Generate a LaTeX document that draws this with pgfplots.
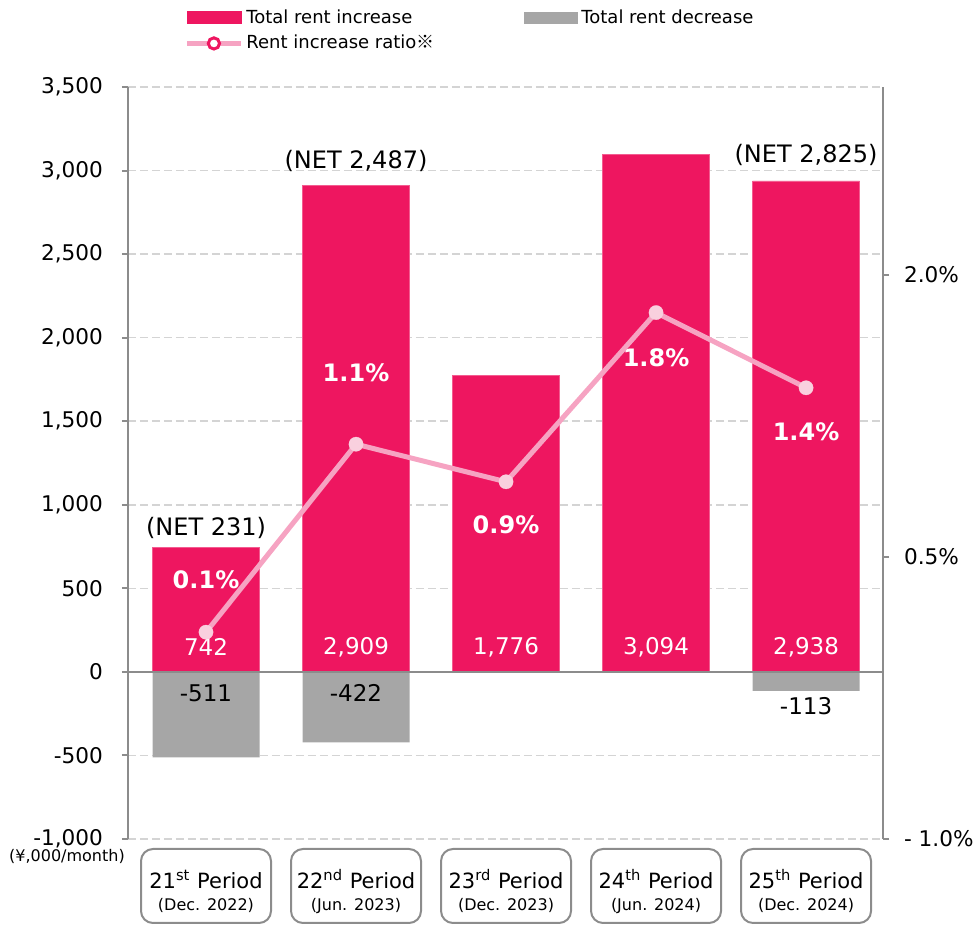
\documentclass[border=0pt]{standalone}
\usepackage{fontspec}
\setmainfont{DejaVu Sans}
\newfontfamily\cjk{Noto Sans CJK JP}
\usepackage{pgfplots}
\pgfplotsset{compat=1.18}
\definecolor{pinkbar}{HTML}{EE1660}
\definecolor{graybar}{HTML}{A6A6A6}
\definecolor{linepink}{HTML}{F6A3C2}
\definecolor{markpink}{HTML}{F9D0DE}
\definecolor{axisgray}{HTML}{8C8C8C}
\definecolor{gridgray}{HTML}{D4D4D4}
\begin{document}
\begin{tikzpicture}
\begin{axis}[
  name=main,
  at={(0pt,0pt)}, anchor=south west,
  scale only axis, width=377.5pt, height=376pt,
  xmin=-0.52, xmax=4.513, ymin=-1000, ymax=3500,
  axis y line*=left, axis x line*=bottom,
  x axis line style={draw=none},
  y axis line style={axisgray, line width=1pt, -},
  xtick={0,1,2,3,4},
  xtick style={draw=none},
  ytick={-1000,-500,0,500,1000,1500,2000,2500,3000,3500},
  yticklabels={{-1,000},-500,0,500,{1,000},{1,500},{2,000},{2,500},{3,000},{3,500}},
  ytick style={axisgray, line width=1pt},
  tick align=outside, major tick length=3pt,
  yticklabel style={font=\fontsize{10.8}{13}\selectfont, xshift=-6pt},
  ymajorgrids, major grid style={gridgray, line width=0.8pt, dash pattern=on 4pt off 2pt},
  xticklabels={
    {\rule{0pt}{15pt}21\textsuperscript{st} Period\\[-1pt]{\fontsize{8}{9}\selectfont (Dec. 2022)}},
    {\rule{0pt}{15pt}22\textsuperscript{nd} Period\\[-1pt]{\fontsize{8}{9}\selectfont (Jun. 2023)}},
    {\rule{0pt}{15pt}23\textsuperscript{rd} Period\\[-1pt]{\fontsize{8}{9}\selectfont (Dec. 2023)}},
    {\rule{0pt}{15pt}24\textsuperscript{th} Period\\[-1pt]{\fontsize{8}{9}\selectfont (Jun. 2024)}},
    {\rule{0pt}{15pt}25\textsuperscript{th} Period\\[-1pt]{\fontsize{8}{9}\selectfont (Dec. 2024)}}},
  xticklabel style={draw=axisgray, line width=1pt, rounded corners=6pt,
    minimum width=65pt, minimum height=37pt, inner sep=0pt, align=center,
    anchor=north, yshift=-1.5pt, font=\fontsize{10.5}{12}\selectfont},
  legend columns=2,
  legend style={at={(0.0742,1.1077)}, anchor=north west, draw=none, fill=none,
    font=\fontsize{9}{11}\selectfont, inner sep=0pt, row sep=1.5pt,
    /tikz/every even column/.append style={column sep=43.5pt},
    nodes={inner sep=1.5pt}},
  legend cell align=left,
]
\addplot[ybar, bar width=53.5pt, bar shift=0pt, fill=pinkbar, draw=pinkbar!70!white, line width=0.4pt,
  legend image code/.code={\fill[pinkbar] (0pt,-3pt) rectangle (27pt,3pt);}]
  coordinates {(0,742) (1,2909) (2,1776) (3,3094) (4,2938)};
\addlegendentry{Total rent increase}
\addplot[ybar, bar width=53.5pt, bar shift=0pt, fill=graybar, draw=none,
  legend image code/.code={\fill[graybar] (0pt,-3pt) rectangle (27pt,3pt);}]
  coordinates {(0,-511) (1,-422) (4,-113)};
\addlegendentry{Total rent decrease}
\addlegendimage{legend image code/.code={\draw[linepink, line width=2.5pt] (0pt,0pt) -- (27pt,0pt); \draw[pinkbar, fill=white, line width=1.5pt] (13.5pt,0pt) circle (2.8pt);}}
\addlegendentry{Rent increase ratio{\cjk ※}}
\draw[axisgray, line width=1pt] (axis cs:-0.52,0) -- (axis cs:4.513,0);
% value labels
\begin{scope}[every node/.style={font=\fontsize{11.5}{13}\selectfont}]
\node[white] at (axis cs:0,150) {742};
\node[white] at (axis cs:1,150) {2,909};
\node[white] at (axis cs:2,150) {1,776};
\node[white] at (axis cs:3,150) {3,094};
\node[white] at (axis cs:4,150) {2,938};
\node[black] at (axis cs:0,-126) {-511};
\node[black] at (axis cs:1,-126) {-422};
\node[black] at (axis cs:4,-204) {-113};
\end{scope}
\begin{scope}[every node/.style={font=\fontsize{12}{14}\selectfont}]
\node at (axis cs:0,861) {(NET 231)};
\node at (axis cs:1,3057) {(NET 2,487)};
\node at (axis cs:4,3093) {(NET 2,825)};
\end{scope}
\begin{scope}[every node/.style={white, font=\bfseries\fontsize{12}{14}\selectfont}]
\node at (axis cs:0,550) {0.1\%};
\node at (axis cs:1,1789) {1.1\%};
\node at (axis cs:2,879) {0.9\%};
\node at (axis cs:3,1878) {1.8\%};
\node at (axis cs:4,1436) {1.4\%};
\end{scope}
\end{axis}
\begin{axis}[
  at={(main.south west)}, anchor=south west,
  scale only axis, width=377.5pt, height=376pt,
  xmin=-0.52, xmax=4.513, ymin=-1, ymax=3,
  axis y line*=right, axis x line=none,
  y axis line style={axisgray, line width=1pt, -},
  ytick={-1,0.5,2}, yticklabels={- 1.0\%, 0.5\%, 2.0\%},
  ytick style={axisgray, line width=1pt},
  tick align=outside, major tick length=3pt,
  yticklabel style={font=\fontsize{10.8}{13}\selectfont, xshift=4pt},
]
\addplot[linepink, line width=2.5pt, mark=*, mark size=3.6pt, mark options={fill=markpink, draw=markpink, line width=0.1pt}]
  coordinates {(0,0.1) (1,1.1) (2,0.9) (3,1.8) (4,1.4)};
\end{axis}
\node[font=\fontsize{8}{9}\selectfont] at ([shift={(-30.5pt,-8.5pt)}]main.south west) {(¥,000/month)};
\pgfresetboundingbox
\path[use as bounding box] ([shift={(-64pt,-43pt)}]main.south west) rectangle ([shift={(424pt,419.5pt)}]main.south west);
\end{tikzpicture}
\end{document}
